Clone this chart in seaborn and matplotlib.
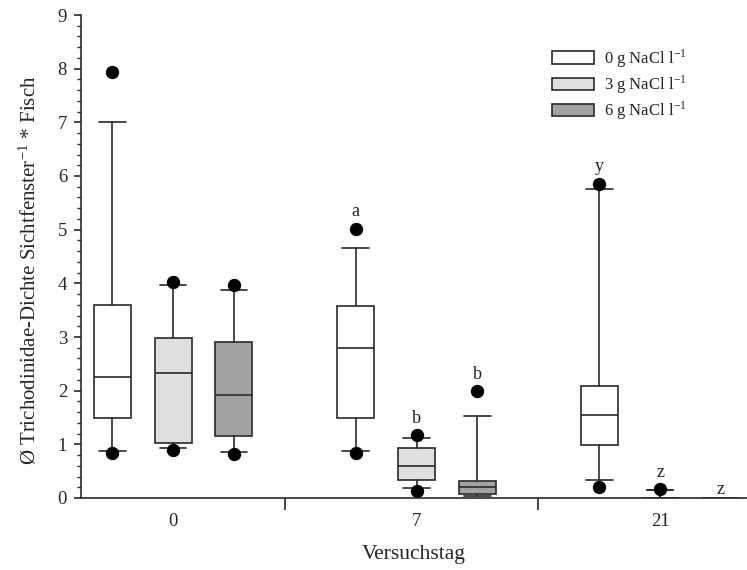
import numpy as np
import matplotlib
matplotlib.use("Agg")
import matplotlib.pyplot as plt
import seaborn as sns
from matplotlib.patches import Patch
from matplotlib.ticker import MultipleLocator, FixedLocator

# ---------------- data ----------------
days = ["0", "7", "21"]
salt_levels = ["0 g NaCl l$^{\\mathregular{-1}}$", "3 g NaCl l$^{\\mathregular{-1}}$",
               "6 g NaCl l$^{\\mathregular{-1}}$"]
# rows: salt level, columns: day
whisker_low = [[0.88, 0.87, 0.33], [0.93, 0.19, 0.14], [0.86, 0.04, 0.0]]
quart_low = [[1.50, 1.49, 0.99], [1.02, 0.34, 0.0], [1.16, 0.07, 0.0]]
medians = [[2.25, 2.80, 1.55], [2.32, 0.60, 0.0], [1.91, 0.21, 0.0]]
quart_high = [[3.60, 3.57, 2.09], [2.99, 0.94, 0.0], [2.91, 0.31, 0.0]]
whisker_high = [[7.01, 4.66, 5.76], [3.97, 1.11, 0.14], [3.87, 1.53, 0.0]]
outlier_low = [[0.83, 0.83, 0.20], [0.89, 0.13, None], [0.82, None, None]]
outlier_high = [[7.93, 5.02, 5.86], [4.03, 1.17, 0.16], [3.96, 1.99, None]]
# significance letters: (salt index, day index, letter, y)
letters = [(0, 1, "a", 5.33), (1, 1, "b", 1.48), (2, 1, "b", 2.30),
           (0, 2, "y", 6.17), (1, 2, "z", 0.47), (2, 2, "z", 0.16)]

fill_colors = ["#ffffff", "#dfdfdf", "#a2a2a2"]
edge = "#2a2a2a"

# ---------------- style ----------------
sns.set_theme(style="ticks")
plt.rcParams["font.family"] = ["Liberation Serif", "DejaVu Serif"]
plt.rcParams["mathtext.fontset"] = "stix"

fig = plt.figure(figsize=(7.47, 5.70), dpi=100)
ax = fig.add_axes([81 / 747, 72 / 570, 666 / 747, 483 / 570])

offsets = [-0.25, 0.0, 0.25]
lw = 1.2
for s in range(3):
    stats = []
    for d in range(3):
        fl = [v for v in (outlier_low[s][d], outlier_high[s][d]) if v is not None]
        stats.append(dict(med=medians[s][d], q1=quart_low[s][d], q3=quart_high[s][d],
                          whislo=whisker_low[s][d], whishi=whisker_high[s][d],
                          fliers=fl))
    ax.bxp(stats, positions=np.arange(3) + offsets[s], widths=0.152,
           capwidths=0.11, patch_artist=True, manage_ticks=False,
           boxprops=dict(facecolor=fill_colors[s], edgecolor=edge, linewidth=lw),
           medianprops=dict(color=edge, linewidth=lw),
           whiskerprops=dict(color=edge, linewidth=lw),
           capprops=dict(color=edge, linewidth=lw),
           flierprops=dict(marker="o", markerfacecolor="black", markeredgecolor="black",
                           markersize=8.6, linestyle="none"))

for s, d, txt, yv in letters:
    ax.text(d + offsets[s], yv, txt, ha="center", va="center", fontsize=13, color="#222222")

ax.set_xlim(-0.378, 2.357)
ax.set_ylim(0, 9)
ax.yaxis.set_major_locator(MultipleLocator(1))
ax.yaxis.set_minor_locator(MultipleLocator(0.2))
ax.set_xticks(range(3))
ax.set_xticklabels(days)
ax.xaxis.set_minor_locator(FixedLocator([0.46, 1.5]))
ax.tick_params(axis="x", which="major", length=0, pad=11, labelsize=13.5)
ax.tick_params(axis="x", which="minor", length=8.5, width=1.2, direction="out", color=edge)
ax.tick_params(axis="y", which="major", length=5, width=1.2, pad=5, labelsize=13.5, color=edge)
ax.tick_params(axis="y", which="minor", length=2.8, width=1.0, color=edge)
for sp in ["left", "bottom"]:
    ax.spines[sp].set_color(edge)
    ax.spines[sp].set_linewidth(1.2)
sns.despine(ax=ax)

ax.set_ylabel("Ø Trichodinidae-Dichte Sichtfenster$^{\\mathregular{-1}}$ * Fisch", fontsize=15)
ax.set_xlabel("Versuchstag", fontsize=15.5)
ax.yaxis.set_label_coords(-0.061, 0.472)
ax.xaxis.set_label_coords(0.5, -0.097)

handles = [Patch(facecolor=c, edgecolor=edge, linewidth=1.2) for c in fill_colors]
ax.legend(handles, salt_levels, loc="upper left", frameon=False, fontsize=12,
          bbox_to_anchor=(552 / 747, 1 - 47 / 570), bbox_transform=fig.transFigure,
          borderpad=0, borderaxespad=0, handlelength=2.5, handleheight=0.75,
          handletextpad=0.65, labelspacing=0.2)

fig.savefig("out.png", dpi=100)
